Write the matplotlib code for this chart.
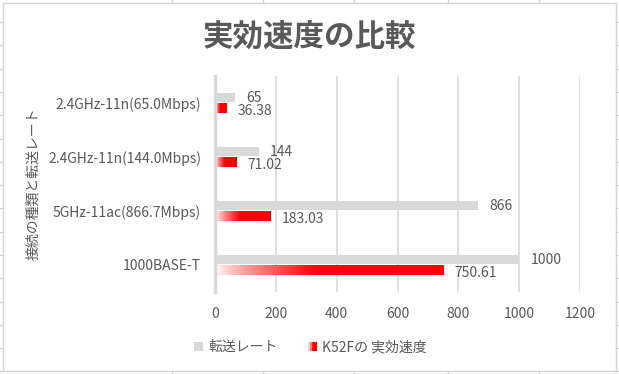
import numpy as np
import matplotlib
matplotlib.use("Agg")
import matplotlib.pyplot as plt
from matplotlib.patches import Rectangle
from matplotlib.lines import Line2D
from matplotlib.legend_handler import HandlerBase

plt.rcParams['font.family'] = ['Noto Sans CJK JP', 'DejaVu Sans']

# data
categories = ['2.4GHz-11n(65.0Mbps)', '2.4GHz-11n(144.0Mbps)', '5GHz-11ac(866.7Mbps)', '1000BASE-T']
link_rate = [65, 144, 866, 1000]
real_speed = [36.38, 71.02, 183.03, 750.61]
rate_labels = ['65', '144', '866', '1000']
speed_labels = ['36.38', '71.02', '183.03', '750.61']
series_names = ['転送レート', 'K52Fの 実効速度']
xticks = [0, 200, 400, 600, 800, 1000, 1200]

text_color = '#595959'
gray = '#D9D9D9'
red = '#FF0000'


def red_gradient(n=200, stop=0.45):
    # white -> red over the first part of the bar, then solid red
    t = np.linspace(0, 1, n)
    f = np.clip(t / stop, 0, 1) ** 0.8
    rgb = np.ones((1, n, 3))
    rgb[0, :, 1] = 1 - f
    rgb[0, :, 2] = 1 - f
    return rgb


class GradientHandler(HandlerBase):
    def create_artists(self, legend, orig_handle, xdescent, ydescent, width, height, fontsize, trans):
        cols = ['#ffd0d0', '#ff8080', '#ff2020', red, red]
        w = height * 0.9
        x0 = width - w
        arts = []
        for i, c in enumerate(cols):
            r = Rectangle((x0 - xdescent + i * w / len(cols), -ydescent + (height - w) / 2),
                          w / len(cols), w, facecolor=c, edgecolor='none', transform=trans)
            arts.append(r)
        return arts


class SquareHandler(HandlerBase):
    def create_artists(self, legend, orig_handle, xdescent, ydescent, width, height, fontsize, trans):
        w = height * 0.9
        r = Rectangle((width - w - xdescent, -ydescent + (height - w) / 2), w, w,
                      facecolor=gray, edgecolor='none', transform=trans)
        return [r]


fig = plt.figure(figsize=(6.19, 3.74), dpi=100)
ax = fig.add_axes([215 / 619, 1 - 292 / 374, (580 - 215) / 619, (292 - 76) / 374])

y = np.arange(len(categories))[::-1]
h = 0.18
gap = 0.01
ax.barh(y + h / 2 + gap, link_rate, height=h, color=gray, zorder=2)

grad = red_gradient()
for yi, v in zip(y, real_speed):
    y0 = yi - h / 2 - gap - h / 2
    ax.imshow(grad, extent=[0, v, y0, y0 + h], aspect='auto', zorder=2, interpolation='bilinear')

for yi, v, s in zip(y, link_rate, rate_labels):
    ax.annotate(s, (v, yi + h / 2 + gap), xytext=(8, 0), textcoords='offset points',
                va='center', ha='left', fontsize=10, color=text_color)
for yi, v, s in zip(y, real_speed, speed_labels):
    ax.annotate(s, (v, yi - h / 2 - gap), xytext=(8, -2), textcoords='offset points',
                va='center', ha='left', fontsize=10, color=text_color)

ax.set_xlim(0, 1200)
ax.set_ylim(-0.5, len(categories) - 0.5)
ax.set_xticks(xticks)
ax.set_xticklabels([str(t) for t in xticks])
ax.set_yticks(y)
ax.set_yticklabels(categories)
ax.tick_params(axis='both', length=0, labelsize=10, labelcolor=text_color)
ax.tick_params(axis='x', pad=11)
ax.tick_params(axis='y', pad=10)
ax.grid(axis='x', color=gray, linewidth=1.2, zorder=0)
for sp in ['top', 'right', 'bottom']:
    ax.spines[sp].set_visible(False)
ax.spines['left'].set_color(gray)
ax.spines['left'].set_linewidth(2.5)
ax.spines['left'].set_zorder(3)

ax.set_ylabel('接続の種類と転送レート', fontsize=10, color=text_color)
ax.yaxis.set_label_coords(-(215 - 40) / (580 - 215), 0.5)

fig.text(0.5, 1 - 37 / 374, '実効速度の比較', ha='center', va='center',
         fontsize=22, fontweight='bold', color=text_color)

h1 = Rectangle((0, 0), 1, 1)
h2 = Line2D([], [])
leg = fig.legend([h1, h2], series_names, loc='center', bbox_to_anchor=(0.5, 1 - 347 / 374),
                 ncol=2, frameon=False, fontsize=10, handlelength=0.8, handletextpad=0.4,
                 columnspacing=2.0,
                 handler_map={Rectangle: SquareHandler(), Line2D: GradientHandler()})
for t in leg.get_texts():
    t.set_color(text_color)

# chart border and spreadsheet cell lines around it
line_c = '#D4D4D4'
fig.add_artist(Rectangle((3 / 619, 3 / 374), 613 / 619, 368 / 374, transform=fig.transFigure,
                         facecolor='none', edgecolor=line_c, linewidth=1.0))
for xc in [172, 263, 354, 448, 539]:
    fig.add_artist(Line2D([xc / 619, xc / 619], [1, 1 - 3 / 374], color=line_c, lw=1))
    fig.add_artist(Line2D([xc / 619, xc / 619], [0, 3 / 374], color=line_c, lw=1))
for yr in np.arange(22, 372, 23.3):
    fig.add_artist(Line2D([0, 3 / 619], [1 - yr / 374, 1 - yr / 374], color=line_c, lw=1))
    fig.add_artist(Line2D([616 / 619, 1], [1 - yr / 374, 1 - yr / 374], color=line_c, lw=1))

fig.savefig('out.png', dpi=100)
